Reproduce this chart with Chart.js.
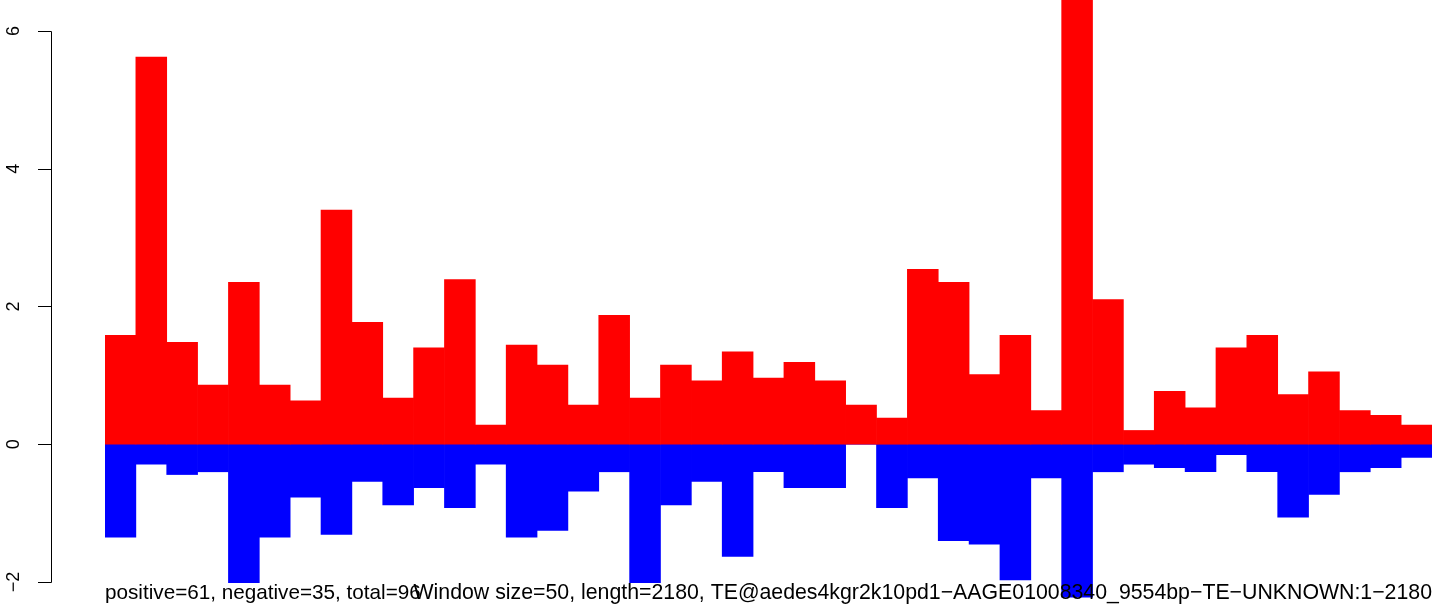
<!DOCTYPE html>
<html>
<head>
<meta charset="utf-8">
<script src="https://cdn.jsdelivr.net/npm/chart.js@4/dist/chart.umd.min.js"></script>
<style>
  html, body { margin: 0; padding: 0; background: #fff; }
  canvas { display: block; }
</style>
</head>
<body>
<canvas id="chart" width="1444" height="613"></canvas>
<script>
// windows of 50bp along the TE (43 windows)
const windows = Array.from({ length: 43 }, (_, i) => i + 1);

const positive = [1.58, 5.62, 1.48, 0.86, 2.35, 0.86, 0.63, 3.40, 1.77, 0.67, 1.40, 2.39, 0.28,
    1.44, 1.15, 0.57, 1.87, 0.67, 1.15, 0.92, 1.34, 0.96, 1.19, 0.92, 0.57, 0.38, 2.54, 2.35,
    1.01, 1.58, 0.49, 6.60, 2.10, 0.20, 0.77, 0.53, 1.40, 1.58, 0.72, 1.05, 0.49, 0.42, 0.28];

const negative = [-1.35, -0.29, -0.44, -0.40, -2.01, -1.35, -0.77, -1.31, -0.54, -0.88, -0.63, -0.92, -0.29,
    -1.35, -1.25, -0.68, -0.40, -2.01, -0.88, -0.54, -1.63, -0.40, -0.63, -0.63, 0, -0.92, -0.49, -1.40,
    -1.45, -1.97, -0.49, -2.22, -0.40, -0.29, -0.34, -0.40, -0.15, -0.40, -1.06, -0.73, -0.40, -0.34, -0.19];

const yTicks = [-2, 0, 2, 4, 6];

const leftNote = 'positive=61, negative=35, total=96';
const rightNote = 'Window size=50, length=2180, TE@aedes4kgr2k10pd1\u2212AAGE01008340_9554bp\u2212TE\u2212UNKNOWN:1\u22122180';

// R style axis on the left + the two notes under the bars
const rAxis = {
    id: 'rAxis',
    afterDraw(chart) {
        const ctx = chart.ctx;
        const y = chart.scales.y;
        const xs = chart.scales.x;
        const axisX = 51;
        ctx.save();
        ctx.strokeStyle = '#000';
        ctx.lineWidth = 1;
        ctx.beginPath();
        ctx.moveTo(axisX + 0.5, Math.round(y.getPixelForValue(yTicks[0])) + 0.5);
        ctx.lineTo(axisX + 0.5, Math.round(y.getPixelForValue(yTicks[yTicks.length - 1])) + 0.5);
        yTicks.forEach(t => {
            const py = Math.round(y.getPixelForValue(t)) + 0.5;
            ctx.moveTo(axisX + 0.5, py);
            ctx.lineTo(axisX - 13, py);
        });
        ctx.stroke();

        ctx.fillStyle = '#000';
        ctx.font = '18px "Liberation Sans", Arial, sans-serif';
        ctx.textAlign = 'center';
        ctx.textBaseline = 'middle';
        yTicks.forEach(t => {
            ctx.save();
            ctx.translate(14, y.getPixelForValue(t));
            ctx.rotate(-Math.PI / 2);
            ctx.fillText(String(t).replace('-', '\u2212'), 0, 0);
            ctx.restore();
        });

        ctx.textBaseline = 'alphabetic';
        ctx.font = '20.7px "Liberation Sans", Arial, sans-serif';
        ctx.textAlign = 'left';
        ctx.fillText(leftNote, xs.left, 599);
        ctx.font = '21.3px "Liberation Sans", Arial, sans-serif';
        ctx.textAlign = 'right';
        ctx.fillText(rightNote, xs.right, 599);
        ctx.restore();
    }
};

new Chart(document.getElementById('chart'), {
    type: 'bar',
    data: {
        labels: windows,
        datasets: [
            { label: 'positive', data: positive, backgroundColor: '#ff0000', borderWidth: 0, grouped: false },
            { label: 'negative', data: negative, backgroundColor: '#0000ff', borderWidth: 0, grouped: false }
        ]
    },
    options: {
        responsive: false,
        animation: false,
        layout: { padding: { left: 105, right: 12, top: 0, bottom: 12 } },
        datasets: { bar: { barPercentage: 1, categoryPercentage: 1 } },
        plugins: { legend: { display: false }, tooltip: { enabled: false } },
        scales: {
            x: { display: false },
            y: { display: false, min: -2.276, max: 6.45 }
        }
    },
    plugins: [rAxis]
});
</script>
</body>
</html>
